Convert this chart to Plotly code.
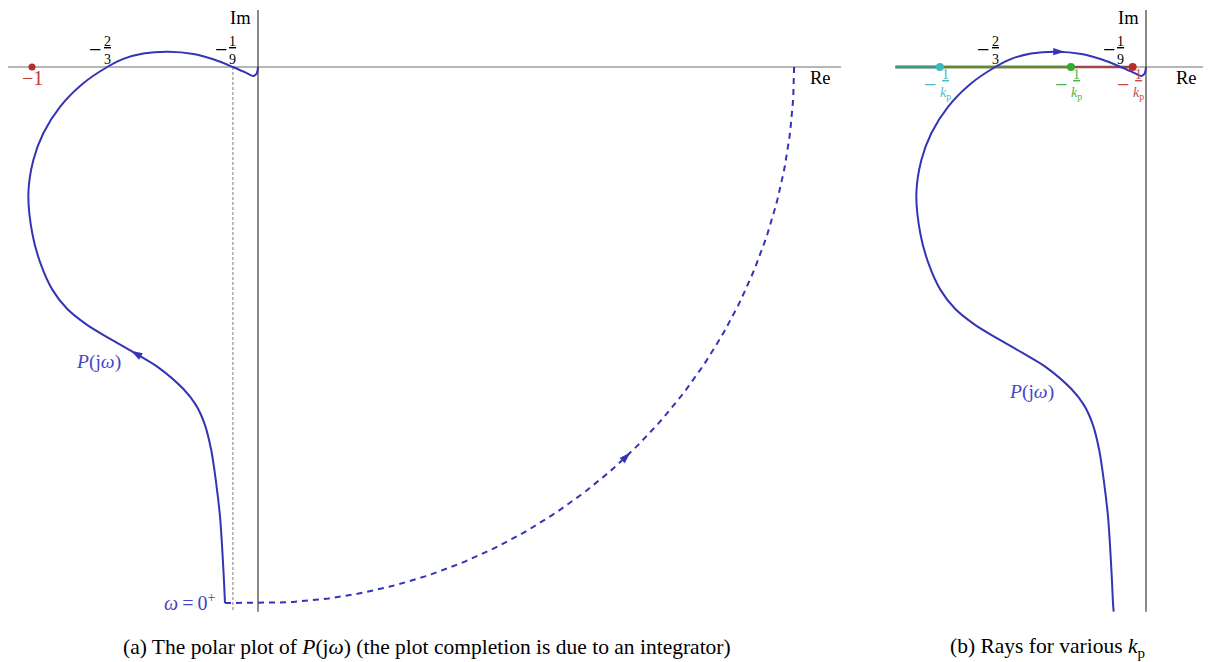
import numpy as np
import plotly.graph_objects as go

# ---------------- data ----------------
# samples of P(jw), from low to high frequency (first point only visible in panel b)
p_re = [-0.143, -0.146, -0.150, -0.158, -0.168, -0.185, -0.207, -0.236, -0.275, -0.330,
        -0.440, -0.552, -0.660, -0.758, -0.845, -0.910, -0.962, -0.998, -1.016, -0.994,
        -0.950, -0.876, -0.773, -0.667, -0.596, -0.508, -0.397, -0.286, -0.198, -0.111,
        -0.050, -0.021, -0.008, -0.002, 0.000]
p_im = [-2.410, -2.372, -2.285, -2.137, -1.990, -1.842, -1.695, -1.580, -1.495, -1.425,
        -1.330, -1.262, -1.200, -1.140, -1.070, -0.985, -0.870, -0.740, -0.560, -0.412,
        -0.293, -0.176, -0.072, 0.000, 0.036, 0.060, 0.068, 0.058, 0.034, 0.000,
        -0.027, -0.040, -0.032, -0.015, 0.000]

critical_point = -1.0
crossing_values = [-2 / 3, -1 / 9]
crossing_num = ["2", "1"]
crossing_den = ["3", "9"]
asymptote_re = -1 / 9
completion_radius = 2.372          # schematic radius of the completion arc
kp_points = [-0.912, -0.332, -0.059]   # -1/kp for the three rays
kp_dot_colors = ["#3cb9be", "#33aa33", "#b52d2d"]
kp_ray_colors = ["#3d9a8a", "#5a8a3c", "#9c4646"]
kp_label_colors = ["#4cbcc6", "#4cb44c", "#c84a4a"]

BLUE = "#3434b4"
LBLUE = "#4646c2"
FONT = "Liberation Serif, Times New Roman, serif"

# ---------------- figure / axes ----------------
W, H = 1209, 662
fig = go.Figure()

ax_common = dict(visible=False, showgrid=False, zeroline=False, fixedrange=True)
fig.update_layout(
    width=W, height=H, margin=dict(l=0, r=0, t=0, b=0),
    paper_bgcolor="white", plot_bgcolor="white", showlegend=False,
    xaxis=dict(domain=[0, 850 / W], range=[-1.1416, 2.6195], **ax_common),
    yaxis=dict(domain=[1 - 620 / H, 1], range=[-2.4469, 0.2965], **ax_common),
    xaxis2=dict(domain=[880 / W, 1], range=[-1.177, 0.2788], anchor="y2", **ax_common),
    yaxis2=dict(domain=[1 - 620 / H, 1], range=[-2.4469, 0.2965], anchor="x2", **ax_common),
    font=dict(family=FONT, color="black"),
)

shapes = []
annotations = []

def axis_lines(xr, yr, re_left, re_right, im_top, im_bottom):
    shapes.append(dict(type="line", xref=xr, yref=yr, x0=re_left, x1=re_right, y0=0, y1=0,
                       line=dict(color="#6e6e6e", width=1.2), layer="below"))
    shapes.append(dict(type="line", xref=xr, yref=yr, x0=0, x1=0, y0=im_bottom, y1=im_top,
                       line=dict(color="#3c3c3c", width=1.2), layer="below"))

axis_lines("x", "y", -1.106, 2.58, 0.252, -2.41)
axis_lines("x2", "y2", -1.108, 0.252, 0.252, -2.41)

# asymptote in panel a
shapes.append(dict(type="line", xref="x", yref="y", x0=asymptote_re, x1=asymptote_re, y0=0, y1=-2.41,
                   line=dict(color="#9a9a9a", width=1.3, dash="3px,2px"), layer="below"))

def label(x, y, text, xref, yref, color="black", size=18, xshift=0, yshift=0,
          xanchor="center", yanchor="middle"):
    annotations.append(dict(x=x, y=y, xref=xref, yref=yref, text=text, showarrow=False,
                            font=dict(family=FONT, size=size, color=color),
                            xshift=xshift, yshift=yshift, xanchor=xanchor, yanchor=yanchor))

def fraction(x, xref, yref, num, den, color, above=True, frac_dx=0, minus_dx=-12):
    ys = 17 if above else -17
    label(x, 0, f"<u>{num}</u><br>{den}", xref, yref, color=color, size=14,
          xshift=frac_dx, yshift=ys)
    label(x, 0, "\u2212", xref, yref, color=color, size=22, xshift=frac_dx + minus_dx,
          yshift=ys + (1 if above else 0))

# ---------------- panel (a) ----------------
# completion: horizontal dash to the imaginary axis + quarter arc of the integrator
theta = np.linspace(-np.pi / 2, 0, 120)
comp_x = [p_re[1]] + list(completion_radius * np.cos(theta))
comp_y = [-completion_radius] + list(completion_radius * np.sin(theta))
fig.add_trace(go.Scatter(x=comp_x, y=comp_y, mode="lines", xaxis="x", yaxis="y",
                         line=dict(color=BLUE, width=2, dash="6px,5px"), hoverinfo="skip"))
# polar plot
fig.add_trace(go.Scatter(x=p_re[1:], y=p_im[1:], mode="lines", xaxis="x", yaxis="y",
                         line=dict(color=BLUE, width=2, shape="spline", smoothing=0.9),
                         hoverinfo="skip"))
# arrows
arr_ang = np.deg2rad(-46)
fig.add_trace(go.Scatter(
    x=[p_re[11] - 0.01, completion_radius * np.cos(arr_ang)],
    y=[p_im[11] + 0.006, completion_radius * np.sin(arr_ang)],
    mode="markers", xaxis="x", yaxis="y", hoverinfo="skip",
    marker=dict(symbol="arrow", size=12, color=BLUE, angle=[-60, 46], line=dict(width=0))))
# critical point
fig.add_trace(go.Scatter(x=[critical_point], y=[0], mode="markers", xaxis="x", yaxis="y",
                         marker=dict(color="#b52d2d", size=7), hoverinfo="skip"))
label(critical_point, 0, "\u22121", "x", "y", color="#c0393b", size=20, yshift=-11)
for v, n, d in zip(crossing_values, crossing_num, crossing_den):
    fraction(v, "x", "y", n, d, "black")
label(0, 0.2965, "Im", "x", "y", size=18.5, xshift=-5, yshift=-18, xanchor="right")
label(2.58, 0, "Re", "x", "y", size=18.5, xshift=-8, yshift=-11, xanchor="right")
label(-0.704, -1.305, "<i>P</i>(j<i>ω</i>)", "x", "y", color=LBLUE, size=19.5)
label(p_re[1], p_im[1], "<i>ω</i>\u2009=\u20090<sup>+</sup>", "x", "y", color=LBLUE, size=20,
      xshift=-8, yshift=1, xanchor="right")

# ---------------- panel (b) ----------------
ray_left = -1.108
for kp, col in sorted(zip(kp_points, kp_ray_colors), reverse=True):
    shapes.append(dict(type="line", xref="x2", yref="y2", x0=ray_left, x1=kp, y0=0, y1=0,
                       line=dict(color=col, width=2.4), layer="below"))
fig.add_trace(go.Scatter(x=p_re, y=p_im, mode="lines", xaxis="x2", yaxis="y2",
                         line=dict(color=BLUE, width=2, shape="spline", smoothing=0.9),
                         hoverinfo="skip"))
fig.add_trace(go.Scatter(x=kp_points, y=[0, 0, 0], mode="markers", xaxis="x2", yaxis="y2",
                         marker=dict(color=kp_dot_colors, size=8), hoverinfo="skip"))
fig.add_trace(go.Scatter(x=[-0.36], y=[0.068], mode="markers", xaxis="x2", yaxis="y2",
                         marker=dict(symbol="arrow", size=12, color=BLUE, angle=90, line=dict(width=0)),
                         hoverinfo="skip"))
for kp, col in zip(kp_points, kp_label_colors):
    fraction(kp, "x2", "y2", "1", "<i>k</i><sub>p</sub>", col, above=False, frac_dx=6, minus_dx=-16)
for v, n, d in zip(crossing_values, crossing_num, crossing_den):
    fraction(v, "x2", "y2", n, d, "black")
label(0, 0.2965, "Im", "x2", "y2", size=18.5, xshift=-5, yshift=-18, xanchor="right")
label(0.252, 0, "Re", "x2", "y2", size=18.5, xshift=-4, yshift=-11, xanchor="right")
label(-0.507, -1.438, "<i>P</i>(j<i>ω</i>)", "x2", "y2", color=LBLUE, size=19.5)

# ---------------- captions ----------------
CAP = 21.5
annotations.append(dict(x=427 / W, y=1 - 647 / H, xref="paper", yref="paper", showarrow=False,
                        text="(a) The polar plot of <i>P</i>(j<i>ω</i>) (the plot completion is due to an integrator)",
                        font=dict(family=FONT, size=CAP, color="black"), xanchor="center", yanchor="middle"))
annotations.append(dict(x=1047 / W, y=1 - 647 / H, xref="paper", yref="paper", showarrow=False,
                        text="(b) Rays for various <i>k</i><sub>p</sub>",
                        font=dict(family=FONT, size=CAP, color="black"), xanchor="center", yanchor="middle"))

fig.update_layout(shapes=shapes, annotations=annotations)
fig.write_html("out.html", config=dict(displayModeBar=False),
               post_script="document.body.style.margin='0';document.body.style.overflow='hidden';")
